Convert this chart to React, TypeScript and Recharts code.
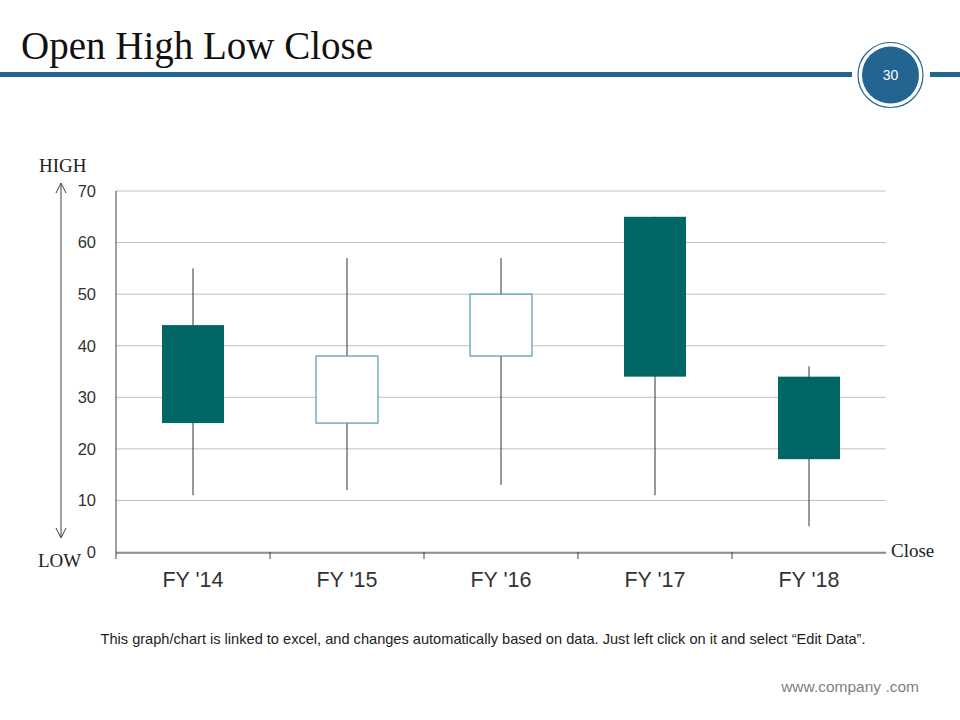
import React from 'react';
import { ComposedChart, Bar, XAxis, YAxis, CartesianGrid } from 'recharts';

const years = ["FY '14", "FY '15", "FY '16", "FY '17", "FY '18"];
const openValues = [44, 25, 38, 65, 34];
const highValues = [55, 57, 57, 65, 36];
const lowValues = [11, 12, 13, 11, 5];
const closeValues = [25, 38, 50, 34, 18];
const yTicks = [0, 10, 20, 30, 40, 50, 60, 70];
const boundaryTicks = [0, 1, 2, 3, 4];

const chartData = years.map((year, i) => ({
  year,
  slot: i + 0.5,
  open: openValues[i],
  high: highValues[i],
  low: lowValues[i],
  close: closeValues[i],
  range: [lowValues[i], highValues[i]],
}));

const BLUE = '#236591';
const TEAL = '#006666';
const HOLLOW = '#4f9cad';
const SANS = '"Liberation Sans", Arial, sans-serif';
const SERIF = '"Liberation Serif", serif';

// draws the wick plus the open/close box inside the low..high range bar
const Candle = (props: any) => {
  const { x, y, width, height, payload } = props;
  if (!payload || height == null) return null;
  const { open, close, high, low } = payload;
  const perUnit = height / (high - low);
  const toY = (v: number) => y + (high - v) * perUnit;
  const cx = x + width / 2;
  const top = toY(Math.max(open, close));
  const bottom = toY(Math.min(open, close));
  const rising = close > open;
  return (
    <g>
      <line x1={cx} x2={cx} y1={y} y2={y + height} stroke="#333" strokeWidth={1} />
      <rect
        x={x}
        y={top}
        width={width}
        height={bottom - top}
        fill={rising ? '#ffffff' : TEAL}
        stroke={rising ? HOLLOW : TEAL}
        strokeWidth={rising ? 1.2 : 0}
      />
    </g>
  );
};

// small tick mark between categories
const BoundaryTick = (props: any) => {
  const { x, y } = props;
  return <line x1={x} x2={x} y1={y} y2={y + 7} stroke="#404040" strokeWidth={1} />;
};

const App: React.FC = () => {
  return (
    <div style={{ position: 'absolute', left: 0, top: 0, width: 960, height: 720, background: '#fff', overflow: 'hidden' }}>
      {/* header */}
      <div
        style={{
          position: 'absolute',
          left: 21,
          top: 22,
          fontFamily: SERIF,
          fontSize: 39,
          color: '#111',
          lineHeight: '48px',
          whiteSpace: 'nowrap',
        }}
      >
        Open High Low Close
      </div>
      <svg width={960} height={720} style={{ position: 'absolute', left: 0, top: 0 }}>
        <rect x={0} y={72} width={852} height={5} fill={BLUE} />
        <rect x={930} y={72} width={30} height={5} fill={BLUE} />
        <circle cx={890.5} cy={75} r={32.5} fill="#fff" stroke={BLUE} strokeWidth={1.2} />
        <circle cx={890.5} cy={75} r={28.5} fill={BLUE} />
        <text x={890.5} y={80} textAnchor="middle" fontFamily={SANS} fontSize={14} fill="#fff">
          30
        </text>
        {/* HIGH / LOW arrow */}
        <line x1={61} y1={184} x2={61} y2={537} stroke="#404040" strokeWidth={1} />
        <polyline points="56,193 61,183 66,193" fill="none" stroke="#404040" strokeWidth={1} />
        <polyline points="56,528 61,538 66,528" fill="none" stroke="#404040" strokeWidth={1} />
        <text x={39} y={172} fontFamily={SERIF} fontSize={19} fill="#222">HIGH</text>
        <text x={38} y={567} fontFamily={SERIF} fontSize={19} fill="#222">LOW</text>
        <text x={891} y={557} fontFamily={SERIF} fontSize={19} fill="#222">Close</text>
      </svg>

      <div style={{ position: 'absolute', left: 0, top: 0 }}>
        <ComposedChart
          width={960}
          height={720}
          data={chartData}
          margin={{ top: 191, right: 74, bottom: 127, left: 56 }}
        >
          <CartesianGrid vertical={false} stroke="#c0c0c0" strokeWidth={1} />
          {/* category boundaries, sits directly on the plot bottom */}
          <XAxis
            type="number"
            dataKey="slot"
            scale="linear"
            domain={[0, 5]}
            allowDataOverflow
            ticks={boundaryTicks}
            height={1}
            axisLine={false}
            tickLine={false}
            tickSize={0}
            tickMargin={0}
            tick={<BoundaryTick />}
          />
          <XAxis
            xAxisId="cat"
            dataKey="year"
            height={40}
            axisLine={{ stroke: '#404040' }}
            tickLine={false}
            tick={{ fill: '#333', fontSize: 21.5, fontFamily: SANS }}
            tickMargin={13}
          />
          <YAxis
            domain={[0, 70]}
            ticks={yTicks}
            width={60}
            axisLine={{ stroke: '#404040' }}
            tickLine={false}
            tickMargin={14}
            tick={{ fill: '#333', fontSize: 16.5, fontFamily: SANS }}
          />
          <Bar xAxisId="cat" dataKey="range" barSize={62} shape={<Candle />} isAnimationActive={false} />
        </ComposedChart>
      </div>

      <div
        style={{
          position: 'absolute',
          left: 0,
          width: 966,
          top: 631,
          textAlign: 'center',
          fontFamily: SANS,
          fontSize: 14.6,
          color: '#222',
          whiteSpace: 'nowrap',
        }}
      >
        This graph/chart is linked to excel, and changes automatically based on data. Just left click on it and select “Edit Data”.
      </div>
      <div
        style={{
          position: 'absolute',
          right: 41,
          top: 678,
          fontFamily: SANS,
          fontSize: 15.5,
          color: '#7f7f7f',
          whiteSpace: 'nowrap',
        }}
      >
        www.company .com
      </div>
    </div>
  );
};

export default App;
